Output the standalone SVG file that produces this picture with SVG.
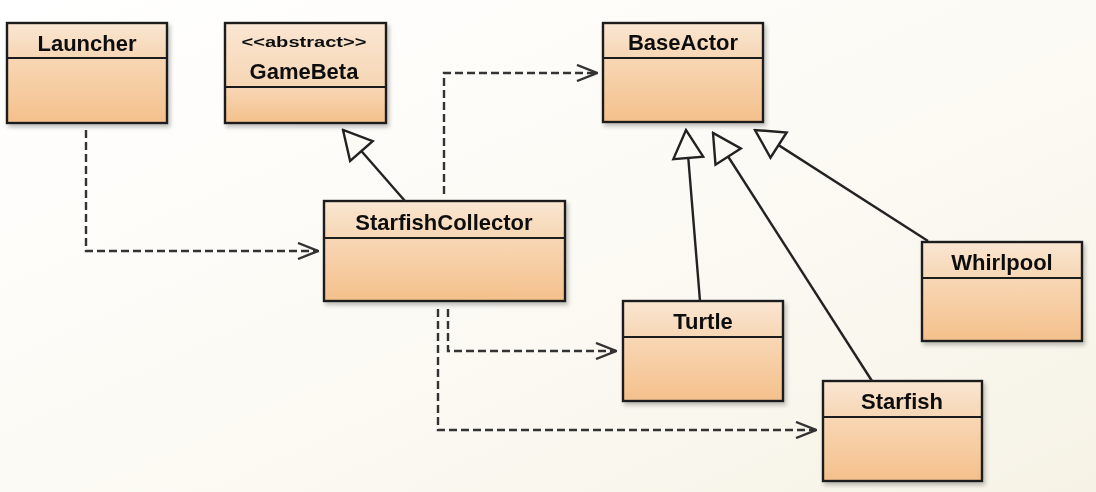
<svg xmlns="http://www.w3.org/2000/svg" width="1096" height="492" viewBox="0 0 1096 492">
  <defs>
    <linearGradient id="bg" x1="0" y1="0" x2="1" y2="1">
      <stop offset="0" stop-color="#ffffff"/>
      <stop offset="0.6" stop-color="#fbf9f2"/>
      <stop offset="1" stop-color="#f6f2e6"/>
    </linearGradient>
    <linearGradient id="hdr" x1="0" y1="0" x2="0" y2="1">
      <stop offset="0" stop-color="#fae6d2"/>
      <stop offset="1" stop-color="#f6d6b4"/>
    </linearGradient>
    <linearGradient id="body" x1="0" y1="0" x2="0" y2="1">
      <stop offset="0" stop-color="#f8d7b5"/>
      <stop offset="1" stop-color="#f4c08b"/>
    </linearGradient>
    <filter id="sh" x="-10%" y="-10%" width="125%" height="130%">
      <feDropShadow dx="2" dy="3" stdDeviation="2" flood-color="#000" flood-opacity="0.25"/>
    </filter>
    <marker id="dep" viewBox="0 0 22 18" refX="21" refY="9" markerWidth="22" markerHeight="18" markerUnits="userSpaceOnUse" orient="auto">
      <path d="M1,1 L21,9 L1,17" fill="none" stroke="#333" stroke-width="2.4"/>
    </marker>
    <marker id="gen" viewBox="0 0 32 34" refX="30" refY="17" markerWidth="32" markerHeight="34" markerUnits="userSpaceOnUse" orient="auto">
      <path d="M2,2 L30,17 L2,32 Z" fill="#fbfaf5" stroke="#222" stroke-width="2.4" stroke-linejoin="miter"/>
    </marker>
  </defs>
  <style>
    .hdr { fill: url(#hdr); }
    .body { fill: url(#body); }
    .frame { fill: none; stroke: #1e1e1e; stroke-width: 2.4; }
    .div { stroke: #1e1e1e; stroke-width: 2.2; }
    .name { font-family: "Liberation Sans", Arial, sans-serif; font-weight: bold; font-size: 22px; fill: #111; text-anchor: middle; }
    .stereo { font-family: "Liberation Sans", Arial, sans-serif; font-weight: bold; font-size: 14px; fill: #111; text-anchor: middle; }
    .dep { fill: none; stroke: #333; stroke-width: 2.4; stroke-dasharray: 8,4; marker-end: url(#dep); }
    .gen { fill: none; stroke: #222; stroke-width: 2.4; marker-end: url(#gen); }
  </style>
  <rect x="0" y="0" width="1096" height="492" fill="url(#bg)"/>

  <g id="Launcher" filter="url(#sh)">
    <rect class="hdr" x="7" y="23" width="160" height="35"/>
    <rect class="body" x="7" y="58" width="160" height="65"/>
    <rect class="frame" x="7" y="23" width="160" height="100"/>
    <line class="div" x1="7" y1="58" x2="167" y2="58"/>
    <text class="name" x="87" y="51">Launcher</text>
  </g>

  <g id="GameBeta" filter="url(#sh)">
    <rect class="hdr" x="225" y="23" width="161" height="64"/>
    <rect class="body" x="225" y="87" width="161" height="36"/>
    <rect class="frame" x="225" y="23" width="161" height="100"/>
    <line class="div" x1="225" y1="87" x2="386" y2="87"/>
    <text class="stereo" x="304" y="47" textLength="125" lengthAdjust="spacingAndGlyphs">&lt;&lt;abstract&gt;&gt;</text>
    <text class="name" x="304" y="79">GameBeta</text>
  </g>

  <g id="BaseActor" filter="url(#sh)">
    <rect class="hdr" x="603" y="23" width="160" height="35"/>
    <rect class="body" x="603" y="58" width="160" height="64"/>
    <rect class="frame" x="603" y="23" width="160" height="99"/>
    <line class="div" x1="603" y1="58" x2="763" y2="58"/>
    <text class="name" x="683" y="50">BaseActor</text>
  </g>

  <g id="StarfishCollector" filter="url(#sh)">
    <rect class="hdr" x="324" y="201" width="241" height="37"/>
    <rect class="body" x="324" y="238" width="241" height="63"/>
    <rect class="frame" x="324" y="201" width="241" height="100"/>
    <line class="div" x1="324" y1="238" x2="565" y2="238"/>
    <text class="name" x="444" y="230">StarfishCollector</text>
  </g>

  <g id="Turtle" filter="url(#sh)">
    <rect class="hdr" x="623" y="301" width="160" height="36"/>
    <rect class="body" x="623" y="337" width="160" height="64"/>
    <rect class="frame" x="623" y="301" width="160" height="100"/>
    <line class="div" x1="623" y1="337" x2="783" y2="337"/>
    <text class="name" x="703" y="329">Turtle</text>
  </g>

  <g id="Starfish" filter="url(#sh)">
    <rect class="hdr" x="823" y="381" width="159" height="36"/>
    <rect class="body" x="823" y="417" width="159" height="64"/>
    <rect class="frame" x="823" y="381" width="159" height="100"/>
    <line class="div" x1="823" y1="417" x2="982" y2="417"/>
    <text class="name" x="902" y="409">Starfish</text>
  </g>

  <g id="Whirlpool" filter="url(#sh)">
    <rect class="hdr" x="922" y="242" width="160" height="36"/>
    <rect class="body" x="922" y="278" width="160" height="63"/>
    <rect class="frame" x="922" y="242" width="160" height="99"/>
    <line class="div" x1="922" y1="278" x2="1082" y2="278"/>
    <text class="name" x="1002" y="270">Whirlpool</text>
  </g>

  <g id="connectors">
    <path class="dep" d="M86,130 L86,251 L318,251"/>
    <path class="dep" d="M444,194 L444,73 L597,73"/>
    <path class="dep" d="M448,309 L448,351 L616,351"/>
    <path class="dep" d="M438,309 L438,430 L816,430"/>
    <path class="gen" d="M405,201 L343,130"/>
    <path class="gen" d="M700,301 L686,130"/>
    <path class="gen" d="M872,381 L713,133"/>
    <path class="gen" d="M928,241 L755,130"/>
  </g>
</svg>
